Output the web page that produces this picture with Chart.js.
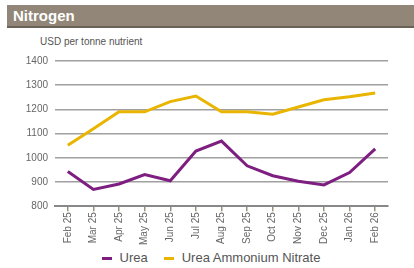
<!DOCTYPE html>
<html>
<head>
<meta charset="utf-8">
<script src="https://cdn.jsdelivr.net/npm/chart.js@4"></script>
<style>
    body { margin: 0; width: 414px; height: 268px; background: #fff; position: relative; overflow: hidden; font-family: "Liberation Sans", Arial, sans-serif; }
    .header { position: absolute; left: 7px; top: 5px; width: 407px; height: 21px; background: #918677; border-bottom: 2px solid #6b6257; }
    .header span { position: absolute; left: 6px; top: 2px; color: #fff; font-weight: bold; font-size: 15px; }
    .unit { position: absolute; left: 40px; top: 36px; font-size: 10px; color: #555; }
    .chart-container { position: absolute; left: 0; top: 48px; width: 414px; height: 198px; }
    .custom-legend { position: absolute; left: 0; top: 250px; width: 414px; }
    .custom-legend ul { list-style: none; margin: 0; padding: 0 0 0 8px; display: flex; justify-content: center; }
    .custom-legend li { display: flex; align-items: center; margin: 0 8px; font-size: 13px; color: #555; line-height: 16px; }
    .custom-legend li span { display: inline-block; width: 10px; height: 3px; margin-right: 8px; }
</style>
</head>
<body>
<div class="header"><span>Nitrogen</span></div>
<div class="unit">USD per tonne nutrient</div>
<div class="chart-container"><canvas id="chart"></canvas></div>
<div class="custom-legend" id="legend"></div>
<script>
const months = ["Feb 25", "Mar 25", "Apr 25", "May 25", "Jun 25", "Jul 25", "Aug 25", "Sep 25", "Oct 25", "Nov 25", "Dec 25", "Jan 26", "Feb 26"];
const urea = [943, 869, 892, 931, 905, 1028, 1069, 967, 926, 903, 888, 939, 1037];
const uan = [1052, 1120, 1190, 1190, 1232, 1255, 1190, 1190, 1180, 1210, 1240, 1252, 1268];

const purple = "#7d1e80";
const gold = "#e9b500";

const htmlLegendPlugin = {
    id: "htmlLegend",
    afterUpdate(chart, args, options) {
        const container = document.getElementById(options.containerID);
        container.innerHTML = "";
        const ul = document.createElement("ul");
        chart.options.plugins.legend.labels.generateLabels(chart).forEach((item) => {
            const li = document.createElement("li");
            const box = document.createElement("span");
            box.style.backgroundColor = item.strokeStyle;
            const text = document.createElement("div");
            text.textContent = item.text;
            li.appendChild(box);
            li.appendChild(text);
            ul.appendChild(li);
        });
        container.appendChild(ul);
    },
};

const ctx = document.getElementById("chart").getContext("2d");

new Chart(ctx, {
    type: "line",
    data: {
        labels: months,
        datasets: [
            { label: "Urea", data: urea, borderColor: purple, backgroundColor: purple, borderWidth: 3, pointRadius: 0, tension: 0 },
            { label: "Urea Ammonium Nitrate", data: uan, borderColor: gold, backgroundColor: gold, borderWidth: 3, pointRadius: 0, tension: 0 },
        ],
    },
    options: {
        animation: false,
        responsive: true,
        maintainAspectRatio: false,
        layout: { padding: { top: 11, right: 26, left: 0, bottom: 0 } },
        plugins: {
            tooltip: { enabled: false },
            legend: { display: false },
            htmlLegend: { containerID: "legend" },
        },
        scales: {
            x: {
                offset: true,
                grid: { drawOnChartArea: false, drawTicks: true, tickLength: 5, color: "#9a8f80", lineWidth: 1.5 },
                border: { display: true, color: "#888", width: 2 },
                ticks: { maxRotation: 90, minRotation: 90, padding: 1, color: "#666", font: { family: "Liberation Sans", size: 10 } },
            },
            y: {
                min: 800,
                max: 1400,
                ticks: { stepSize: 100, padding: 7, color: "#666", font: { family: "Liberation Sans", size: 10 }, callback: (v) => String(v) },
                grid: { drawTicks: false, color: "#a0a0a0", lineWidth: 1.5 },
                border: { display: false },
                afterFit(scale) { scale.width = 55; },
            },
        },
    },
    plugins: [htmlLegendPlugin],
});
</script>
</body>
</html>
